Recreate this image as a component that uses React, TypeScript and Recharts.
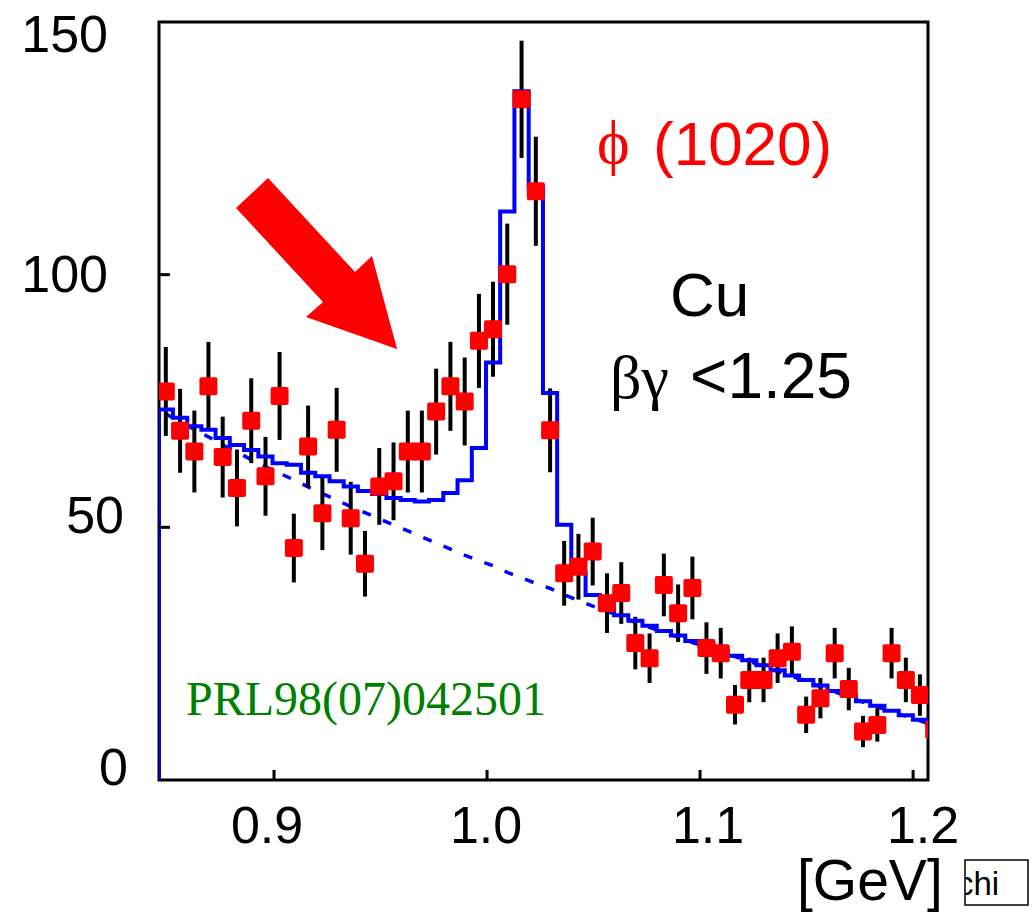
import React from "react";
import { ComposedChart, Line, Scatter, ErrorBar, XAxis, YAxis, ReferenceArea } from "recharts";

// invariant mass bin centres [GeV]
const mass = [
  0.8492, 0.8559, 0.8626, 0.8692, 0.8759, 0.8826, 0.8893, 0.896, 0.9026, 0.9093,
  0.916, 0.9227, 0.9294, 0.936, 0.9427, 0.9494, 0.9561, 0.9628, 0.9694, 0.9761,
  0.9828, 0.9895, 0.9962, 1.0028, 1.0095, 1.0162, 1.0229, 1.0296, 1.0362, 1.0429,
  1.0496, 1.0563, 1.063, 1.0696, 1.0763, 1.083, 1.0897, 1.0964, 1.103, 1.1097,
  1.1164, 1.1231, 1.1298, 1.1364, 1.1431, 1.1498, 1.1565, 1.1632, 1.1698, 1.1765,
  1.1832, 1.1899, 1.1966, 1.2032, 1.2099,
];

// measured counts per bin and their errors
const counts = [
  76.9, 69.1, 65.0, 77.9, 63.9, 57.8, 71.1, 60.1, 76.0, 45.9,
  66.0, 52.8, 69.3, 51.8, 42.8, 58.1, 59.1, 65.0, 65.0, 72.9,
  77.9, 74.9, 86.9, 89.2, 100.1, 134.7, 116.5, 69.2, 40.9, 42.2,
  45.2, 35.0, 37.0, 27.1, 24.1, 38.6, 33.0, 38.0, 26.1, 25.1,
  14.9, 19.8, 19.8, 24.1, 25.4, 12.9, 16.2, 25.1, 18.0, 9.6,
  10.9, 25.1, 19.8, 16.8, 10.0,
];
const errors = [
  8.8, 8.3, 8.1, 8.8, 8.0, 7.6, 8.4, 7.8, 8.7, 6.8,
  8.1, 7.3, 8.3, 7.2, 6.5, 7.6, 7.7, 8.1, 8.1, 8.5,
  8.8, 8.7, 9.3, 9.4, 10.0, 11.6, 10.8, 8.3, 6.4, 6.5,
  6.7, 5.9, 6.1, 5.2, 4.9, 6.2, 5.7, 6.2, 5.1, 5.0,
  3.9, 4.4, 4.4, 4.9, 5.0, 3.6, 4.0, 5.0, 4.2, 3.1,
  3.3, 5.0, 4.4, 4.1, 3.2,
];

// fit: phi + background (solid histogram) and background only (dashed)
const fitTotal = [
  73.3, 71.7, 70.0, 69.3, 67.7, 66.3, 65.3, 64.0, 62.7, 62.4,
  60.8, 60.1, 59.1, 58.1, 57.2, 56.6, 55.8, 55.4, 55.1, 55.4,
  56.8, 59.3, 65.7, 82.6, 112.5, 136.3, 117.5, 76.6, 50.5, 41.0,
  36.6, 34.0, 32.6, 31.5, 30.5, 29.5, 28.6, 27.5, 26.6, 25.6,
  24.6, 23.7, 22.7, 21.7, 20.7, 19.8, 18.7, 17.6, 16.7, 15.6,
  14.7, 13.7, 12.8, 11.9, 11.0,
];
const fitBackground = [
  72.5, 70.8, 69.4, 67.9, 66.3, 64.9, 63.4, 62.0, 60.7, 59.4,
  58.0, 56.7, 55.4, 54.1, 52.9, 51.7, 50.5, 49.3, 48.1, 46.9,
  45.7, 44.5, 43.4, 42.4, 41.1, 40.0, 38.9, 37.9, 36.7, 35.5,
  34.4, 33.4, 32.3, 31.2, 30.2, 29.2, 28.3, 27.2, 26.3, 25.4,
  24.4, 23.5, 22.5, 21.5, 20.5, 19.6, 18.5, 17.4, 16.5, 15.4,
  14.5, 13.5, 12.6, 11.7, 10.8,
];
const fitLowEdge = 0.846;

const xDomain = [0.846, 1.207];
const yDomain = [0, 150];
const xTicks = [0.9, 1.0, 1.1, 1.2];
const yTicks = [0, 50, 100, 150];

const SANS = "'Liberation Sans', Arial, Helvetica, sans-serif";
const SERIF = "'Liberation Serif', 'Times New Roman', serif";

const points = mass.map((m, i) => ({ m, n: counts[i], e: errors[i] }));
// error bars are not clipped by recharts, so only keep the ones inside the frame
const barPoints = points.filter((p) => p.m >= xDomain[0] && p.m <= xDomain[1]);
const totalLine = [
  { m: fitLowEdge, v: 0 },
  { m: fitLowEdge, v: fitTotal[0] },
  ...mass.map((m, i) => ({ m, v: fitTotal[i] })),
];
const bkgLine = mass.map((m, i) => ({ m, v: fitBackground[i] }));

// label nudges, the original labels are not quite aligned
const yNudge: Record<string, [number, number]> = {
  "150": [-51, 30],
  "100": [-51, 17],
  "50": [-35, 6],
  "0": [-31, 5],
};
const xNudge: Record<string, number> = { "0.9": -7, "1.0": -1, "1.1": 8, "1.2": 10 };

function YTick(props: any) {
  const { x, y, payload } = props;
  const v = payload.value;
  const [dx, dy] = yNudge[String(v)] ?? [-45, 15];
  return (
    <g>
      {v > 0 && v < 150 && <line x1={x} x2={x + 11} y1={y} y2={y} stroke="#000" strokeWidth={3} />}
      <text x={x + dx} y={y + dy} textAnchor="end" fontSize={52} fontFamily={SANS} fill="#000">
        {v}
      </text>
    </g>
  );
}

function XTick(props: any) {
  const { x, y, payload } = props;
  const label = Number(payload.value).toFixed(1);
  return (
    <g>
      <line x1={x} x2={x} y1={y} y2={y - 10} stroke="#000" strokeWidth={3} />
      <text x={x + (xNudge[label] ?? 0)} y={y + 63} textAnchor="middle" fontSize={52} fontFamily={SANS} fill="#000">
        {label}
      </text>
    </g>
  );
}

function Square(props: any) {
  const { cx, cy } = props;
  if (cx == null || cy == null) return null;
  return <rect x={cx - 9} y={cy - 9} width={18} height={18} rx={2} fill="#ff0000" />;
}

const NoShape = () => <g />;

export default function App() {
  return (
    <div style={{ position: "absolute", left: 0, top: 0, width: 1033, height: 912, background: "#fff" }}>
      <ComposedChart
        width={1033}
        height={912}
        margin={{ top: 22, right: 105, bottom: 102, left: 99 }}
        style={{ position: "absolute", left: 0, top: 0 }}
      >
        <XAxis
          dataKey="m"
          type="number"
          domain={xDomain}
          ticks={xTicks}
          interval={0}
          allowDataOverflow
          axisLine={false}
          tickLine={false}
          tickSize={0}
          tickMargin={0}
          height={30}
          tick={<XTick />}
        />
        <YAxis
          type="number"
          domain={yDomain}
          ticks={yTicks}
          interval={0}
          allowDataOverflow
          axisLine={false}
          tickLine={false}
          tickSize={0}
          tickMargin={0}
          width={60}
          tick={<YTick />}
        />
        <ReferenceArea
          x1={xDomain[0]}
          x2={xDomain[1]}
          y1={yDomain[0]}
          y2={yDomain[1]}
          fill="none"
          fillOpacity={0}
          stroke="#000"
          strokeWidth={3}
          ifOverflow="visible"
        />
        <Line
          data={bkgLine}
          dataKey="v"
          type="linear"
          stroke="#0000ff"
          strokeWidth={3.5}
          strokeDasharray="9 13"
          dot={false}
          activeDot={false}
          isAnimationActive={false}
        />
        <Scatter data={barPoints} dataKey="n" shape={<NoShape />} isAnimationActive={false}>
          <ErrorBar dataKey="e" direction="y" width={0} stroke="#000" strokeWidth={4} isAnimationActive={false} />
        </Scatter>
        <Scatter data={points} dataKey="n" shape={<Square />} isAnimationActive={false} />
        <Line
          data={totalLine}
          dataKey="v"
          type="step"
          stroke="#0000ff"
          strokeWidth={4}
          dot={false}
          activeDot={false}
          isAnimationActive={false}
        />
      </ComposedChart>

      <svg
        width={1033}
        height={912}
        style={{ position: "absolute", left: 0, top: 0, pointerEvents: "none" }}
      >
        <defs>
          <clipPath id="chiClip">
            <rect x={965} y={860} width={63} height={45} />
          </clipPath>
        </defs>
        <polygon points="236,208 323,302 306,317 397,349 372,256 355,272 268,178" fill="#ff0000" />
        <text x={597} y={163} fontSize={62} fontFamily={SERIF} fill="#ff0000">ϕ</text>
        <text x={653} y={165} fontSize={62} fontFamily={SANS} fill="#ff0000">(1020)</text>
        <text x={670} y={316} fontSize={62} fontFamily={SANS} fill="#000">Cu</text>
        <text x={610} y={398} fontSize={62} fontFamily={SERIF} fill="#000">βγ</text>
        <text x={690} y={398} fontSize={64} fontFamily={SANS} fill="#000">&lt;1.25</text>
        <text x={186} y={715} fontSize={48} fontFamily={SERIF} fill="#008000">PRL98(07)042501</text>
        <text x={797} y={900} fontSize={57} fontFamily={SANS} fill="#000">[GeV]</text>
        <rect x={965} y={860} width={63} height={45} fill="#fff" stroke="#000" strokeWidth={1.5} />
        <text x={957} y={895} fontSize={33} fontFamily={SANS} fill="#000" clipPath="url(#chiClip)">chi</text>
      </svg>
    </div>
  );
}
